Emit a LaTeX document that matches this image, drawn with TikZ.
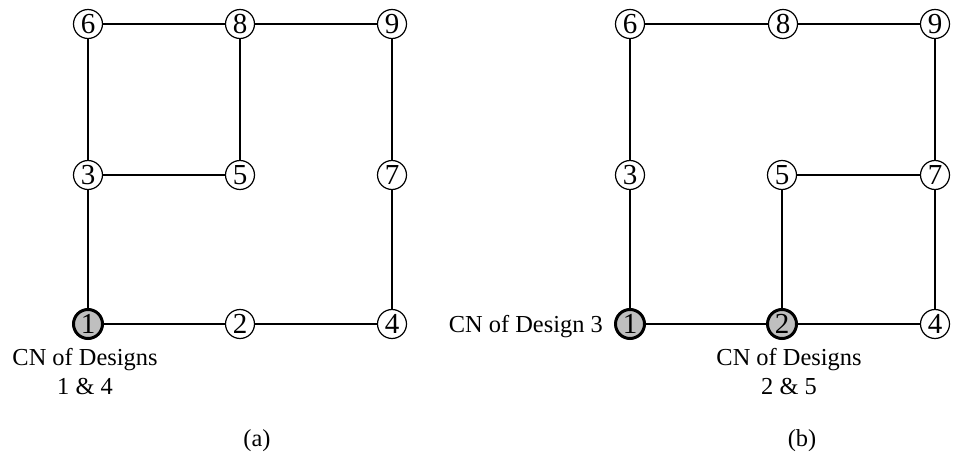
\documentclass[tikz,border=0pt]{standalone}
\usepackage{fontspec}
\setmainfont{Liberation Serif}
\begin{document}
\begin{tikzpicture}[x=1pt,y=-1pt,
  every node/.style={font=\fontsize{24.4}{29}\selectfont},
  vertex/.style={circle,draw,line width=1.2pt,minimum size=29pt,inner sep=0pt,fill=white,
    font=\fontsize{29}{29}\selectfont},
  cn/.style={vertex,line width=3pt,fill=gray!50},
  edge/.style={line width=2pt},
  caption/.style={inner sep=0pt,align=center}]
\useasboundingbox (0,0) rectangle (953,454);

% ---- graph (a) ----
\node[cn]     (a1) at (88,324) {1};
\node[vertex] (a2) at (240,324) {2};
\node[vertex] (a4) at (392,324) {4};
\node[vertex] (a3) at (88,175) {3};
\node[vertex] (a5) at (240,175) {5};
\node[vertex] (a7) at (392,175) {7};
\node[vertex] (a6) at (88,24) {6};
\node[vertex] (a8) at (240,24) {8};
\node[vertex] (a9) at (392,24) {9};
\draw[edge] (a6) -- (a8);
\draw[edge] (a8) -- (a9);
\draw[edge] (a6) -- (a3);
\draw[edge] (a8) -- (a5);
\draw[edge] (a3) -- (a5);
\draw[edge] (a9) -- (a7);
\draw[edge] (a3) -- (a1);
\draw[edge] (a7) -- (a4);
\draw[edge] (a1) -- (a2);
\draw[edge] (a2) -- (a4);
\node[caption,anchor=north] (la) at (85,348.5) {CN of Designs\\1 \& 4};
\node[caption,anchor=base] (capa) at (257,446) {(a)};

% ---- graph (b) ----
\node[cn]     (b1) at (630,324) {1};
\node[cn]     (b2) at (782,324) {2};
\node[vertex] (b4) at (935,324) {4};
\node[vertex] (b3) at (630,175) {3};
\node[vertex] (b5) at (782,175) {5};
\node[vertex] (b7) at (935,175) {7};
\node[vertex] (b6) at (630,24) {6};
\node[vertex] (b8) at (783,24) {8};
\node[vertex] (b9) at (935,24) {9};
\draw[edge] (b6) -- (b8);
\draw[edge] (b8) -- (b9);
\draw[edge] (b6) -- (b3);
\draw[edge] (b9) -- (b7);
\draw[edge] (b3) -- (b1);
\draw[edge] (b5) -- (b7);
\draw[edge] (b5) -- (b2);
\draw[edge] (b7) -- (b4);
\draw[edge] (b1) -- (b2);
\draw[edge] (b2) -- (b4);
\node[caption,anchor=base east] (lb1) at (603,333) {CN of Design 3};
\node[caption,anchor=north] (lb2) at (789,348.5) {CN of Designs\\2 \& 5};
\node[caption,anchor=base] (capb) at (802,446) {(b)};
\end{tikzpicture}
\end{document}
